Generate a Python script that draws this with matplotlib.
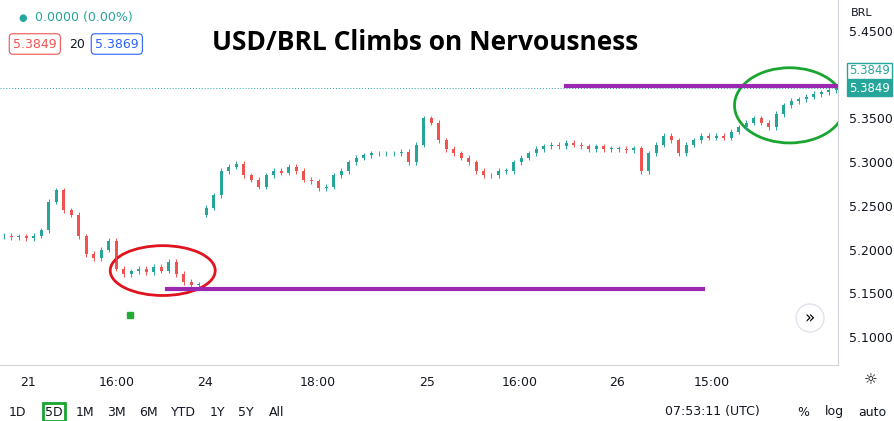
import matplotlib.pyplot as plt
from matplotlib.patches import Ellipse, Rectangle
import numpy as np

closes = [5.216, 5.214, 5.215, 5.213, 5.216, 5.222, 5.255, 5.268, 5.245, 5.240,
          5.215, 5.195, 5.190, 5.200, 5.210, 5.178, 5.172, 5.175, 5.178, 5.174,
          5.180, 5.176, 5.186, 5.172, 5.163, 5.160, 5.160,
          5.248, 5.262, 5.290, 5.295, 5.298, 5.285, 5.280, 5.272, 5.285, 5.290,
          5.288, 5.295, 5.290, 5.280, 5.278, 5.270, 5.272, 5.285, 5.290, 5.300,
          5.305, 5.308, 5.310, 5.310, 5.310, 5.310, 5.312, 5.300, 5.320, 5.350,
          5.345, 5.325, 5.315, 5.310, 5.305, 5.300, 5.290, 5.285, 5.285, 5.290,
          5.290, 5.300, 5.305, 5.310, 5.315, 5.318, 5.320, 5.318, 5.322, 5.320,
          5.318, 5.315, 5.318, 5.315, 5.315, 5.315, 5.314, 5.316, 5.290, 5.310,
          5.320, 5.330, 5.325, 5.310, 5.320, 5.325, 5.330, 5.328, 5.330, 5.328,
          5.335, 5.340, 5.345, 5.350, 5.345, 5.340, 5.355, 5.365, 5.370, 5.372,
          5.375, 5.378, 5.380, 5.382, 5.385]
first_open = 5.215
gap_open = {27: 5.240}
y_ticks = [5.10, 5.15, 5.20, 5.25, 5.30, 5.35, 5.45]
x_tick_pos = [3.2, 15.1, 26.8, 41.9, 56.4, 68.8, 81.8, 94.4]
x_tick_labels = ["21", "16:00", "24", "18:00", "25", "16:00", "26", "15:00"]
last_price = 5.3849

green, red, purple = "#26a69a", "#ef5350", "#9c27b0"

fig = plt.figure(figsize=(8.94, 4.21), dpi=100)
ax = fig.add_axes([0, 56 / 421, 838 / 894, 365 / 421])
ax.set_xlim(-0.5, 111.25)
ax.set_ylim(5.068, 5.4855)

opens = [first_open] + closes[:-1]
for i, o in gap_open.items():
    opens[i] = o
for i, (o, c) in enumerate(zip(opens, closes)):
    col = green if c >= o else red
    ax.vlines(i, min(o, c) - 0.003, max(o, c) + 0.003, color=col, lw=0.7)
    ax.add_patch(Rectangle((i - 0.2, min(o, c)), 0.4, max(abs(c - o), 0.0008),
                           color=col, lw=0))

ax.axhline(last_price, color=green, ls=(0, (1, 2)), lw=0.7)
ax.plot([75.0, 111.25], [5.387, 5.387], color=purple, lw=3)
ax.plot([21.8, 93.2], [5.155, 5.155], color=purple, lw=3)
ax.add_patch(Ellipse((21.2, 5.176), 14, 0.057, fill=False, ec="#e0141e", lw=2))
ax.add_patch(Ellipse((104.8, 5.365), 14.7, 0.086, fill=False, ec="#1aa531", lw=2))
ax.plot([16.8], [5.125], "s", color="#22ab36", ms=4)

ax.yaxis.tick_right()
ax.set_yticks(y_ticks)
ax.set_yticklabels([f"{v:.4f}" for v in y_ticks])
ax.set_xticks(x_tick_pos)
ax.set_xticklabels(x_tick_labels)
ax.tick_params(length=0, labelsize=9, colors="#131722", pad=8)
for s in ["top", "left"]:
    ax.spines[s].set_visible(False)
for s in ["right", "bottom"]:
    ax.spines[s].set_color("#d1d4dc")

ax.text(0.475, 0.9, "USD/BRL Climbs on Nervousness", transform=fig.transFigure,
        ha="center", va="center", fontsize=19, fontweight="bold", color="black",
        family="Open Sans")
fig.text(18 / 894, 1 - 18 / 421, "●", color=green, fontsize=7, va="center")
fig.text(35 / 894, 1 - 18 / 421, "0.0000 (0.00%)", color=green, fontsize=9, va="center")
box = dict(boxstyle="round,pad=0.3", fc="white", lw=0.8)
fig.text(13 / 894, 1 - 44 / 421, "5.3849", color=red, fontsize=9, va="center",
         bbox={**box, "ec": red})
fig.text(69 / 894, 1 - 44 / 421, "20", color="#131722", fontsize=9, va="center")
fig.text(95 / 894, 1 - 44 / 421, "5.3869", color="#2962ff", fontsize=9, va="center",
         bbox={**box, "ec": "#2962ff"})
fig.text(851 / 894, 1 - 13 / 421, "BRL", color="#131722", fontsize=8, va="center")
for yy in [71, 88]:
    fig.text(849 / 894, 1 - yy / 421, "5.3849", color=green if yy == 71 else "white",
             fontsize=8.5, va="center",
             bbox=dict(boxstyle="square,pad=0.15", fc="white" if yy == 71 else green,
                       ec=green))
fig.text(810 / 894, 1 - 318 / 421, "»", fontsize=12, ha="center", va="center",
         bbox=dict(boxstyle="circle,pad=0.3", fc="white", ec="#e0e3eb"))
fig.text(871 / 894, 1 - 380 / 421, "☼", fontsize=11, ha="center", va="center")

tools = [("1D", 17), ("5D", 54), ("1M", 85), ("3M", 116), ("6M", 148), ("YTD", 183),
         ("1Y", 217), ("5Y", 246), ("All", 277)]
for t, x in tools:
    fig.text(x / 894, 1 - 412 / 421, t, fontsize=9, ha="center", va="center",
             color="#131722",
             bbox=dict(boxstyle="square,pad=0.2", fc="white", ec="#1aa531", lw=2)
             if t == "5D" else None)
fig.text(712 / 894, 1 - 412 / 421, "07:53:11 (UTC)", fontsize=9, ha="center",
         va="center", color="#131722")
for t, x in [("%", 803), ("log", 834), ("auto", 872)]:
    fig.text(x / 894, 1 - 412 / 421, t, fontsize=9, ha="center", va="center",
             color="#131722")

fig.savefig("out.png", dpi=100)
